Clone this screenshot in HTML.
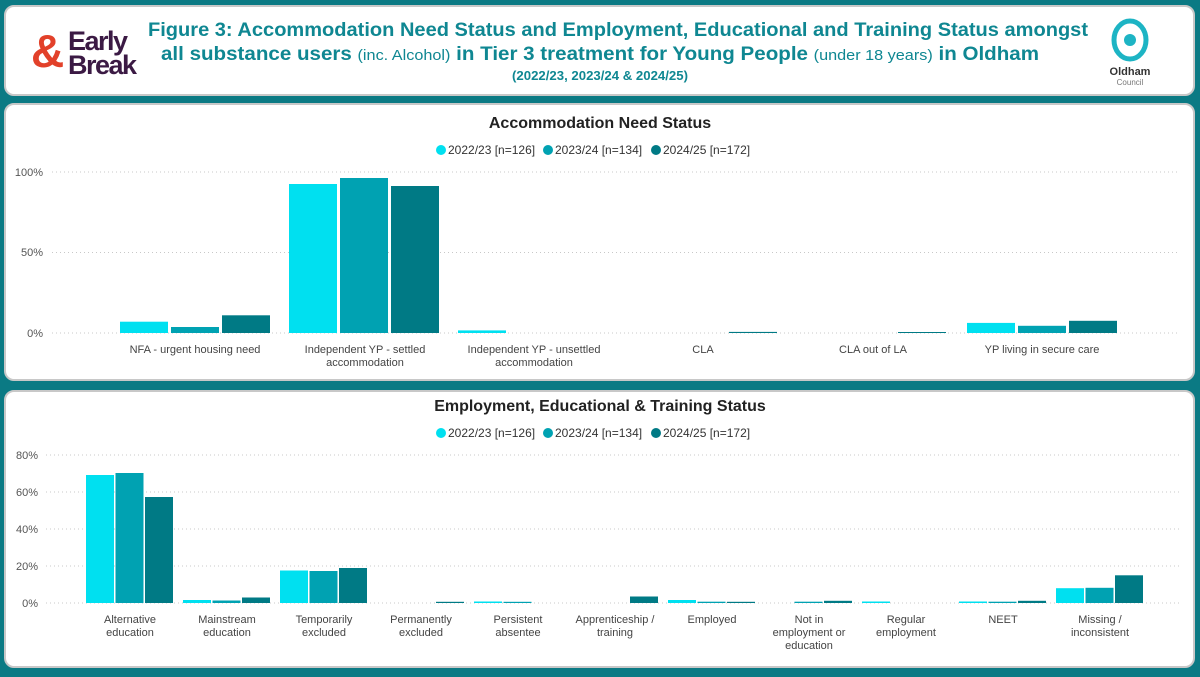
<!DOCTYPE html>
<html><head><style>
body{margin:0;width:1200px;height:672px;background:#0b7a84;overflow:hidden;font-family:"Liberation Sans",Arial,sans-serif}
</style></head><body>
<svg width="1200" height="672" xmlns="http://www.w3.org/2000/svg" font-family="Liberation Sans, Arial, sans-serif">
<rect x="0" y="0" width="1200" height="672" fill="#0b7a84"/>
<rect x="5" y="6" width="1189" height="89" rx="9" fill="#fff" stroke="#c8c8c8" stroke-width="2"/>
<rect x="5" y="104" width="1189" height="276" rx="9" fill="#fff" stroke="#c8c8c8" stroke-width="2"/>
<rect x="5" y="391" width="1189" height="276" rx="9" fill="#fff" stroke="#c8c8c8" stroke-width="2"/>
<!-- Early Break logo -->
<text x="31" y="67" font-size="46" font-weight="bold" fill="#e2412a">&amp;</text>
<text x="68" y="50" font-size="27" font-weight="bold" fill="#3b1a44" letter-spacing="-1.5">Early</text>
<text x="68" y="74" font-size="27" font-weight="bold" fill="#3b1a44" letter-spacing="-1.5">Break</text>
<!-- Title -->
<g fill="#0f8792" font-weight="bold">
<text x="148" y="36" font-size="19" textLength="940" lengthAdjust="spacingAndGlyphs">Figure 3: Accommodation Need Status and Employment, Educational and Training Status amongst</text>
<text x="161" y="60" font-size="19" textLength="878" lengthAdjust="spacingAndGlyphs">all substance users <tspan font-weight="normal" font-size="15">(inc. Alcohol)</tspan> in Tier 3 treatment for Young People <tspan font-weight="normal" font-size="15">(under 18 years)</tspan> in Oldham</text>
<text x="512" y="80" font-size="13" textLength="176" lengthAdjust="spacingAndGlyphs">(2022/23, 2023/24 &amp; 2024/25)</text>
</g>
<!-- Oldham logo -->
<ellipse cx="1130" cy="40" rx="16" ry="19" fill="none" stroke="#1db4c4" stroke-width="5"/>
<circle cx="1130" cy="40" r="6" fill="#1db4c4"/>
<text x="1130" y="75" font-size="11" font-weight="bold" fill="#333" text-anchor="middle">Oldham</text>
<text x="1130" y="85" font-size="8" fill="#777" text-anchor="middle">Council</text>

<!-- Chart 1 -->
<text x="600" y="128" font-size="16" font-weight="bold" fill="#222" text-anchor="middle">Accommodation Need Status</text>
<g font-size="12" fill="#333">
<circle cx="441" cy="150" r="5" fill="#00e0f0"/><text x="448" y="154">2022/23 [n=126]</text>
<circle cx="548" cy="150" r="5" fill="#00a2b2"/><text x="555" y="154">2023/24 [n=134]</text>
<circle cx="656" cy="150" r="5" fill="#007a85"/><text x="663" y="154">2024/25 [n=172]</text>
</g>
<g stroke="#c8c8c8" stroke-dasharray="1,3">
<line x1="52" y1="172" x2="1180" y2="172"/><line x1="52" y1="252.5" x2="1180" y2="252.5"/><line x1="52" y1="333" x2="1180" y2="333"/>
</g>
<g font-size="11" fill="#555" text-anchor="end">
<text x="43" y="176">100%</text><text x="43" y="256">50%</text><text x="43" y="337">0%</text>
</g>
<g font-size="11" fill="#444" text-anchor="middle">
<text x="195" y="353">NFA - urgent housing need</text>
<text x="365" y="353">Independent YP - settled</text><text x="365" y="366">accommodation</text>
<text x="534" y="353">Independent YP - unsettled</text><text x="534" y="366">accommodation</text>
<text x="703" y="353">CLA</text>
<text x="873" y="353">CLA out of LA</text>
<text x="1042" y="353">YP living in secure care</text>
</g>

<!-- Chart 2 -->
<text x="600" y="411" font-size="16" font-weight="bold" fill="#222" text-anchor="middle">Employment, Educational &amp; Training Status</text>
<g font-size="12" fill="#333">
<circle cx="441" cy="433" r="5" fill="#00e0f0"/><text x="448" y="437">2022/23 [n=126]</text>
<circle cx="548" cy="433" r="5" fill="#00a2b2"/><text x="555" y="437">2023/24 [n=134]</text>
<circle cx="656" cy="433" r="5" fill="#007a85"/><text x="663" y="437">2024/25 [n=172]</text>
</g>
<g stroke="#c8c8c8" stroke-dasharray="1,3">
<line x1="46" y1="455" x2="1180" y2="455"/><line x1="46" y1="492" x2="1180" y2="492"/><line x1="46" y1="529" x2="1180" y2="529"/><line x1="46" y1="566" x2="1180" y2="566"/><line x1="46" y1="603" x2="1180" y2="603"/>
</g>
<g font-size="11" fill="#555" text-anchor="end">
<text x="38" y="459">80%</text><text x="38" y="496">60%</text><text x="38" y="533">40%</text><text x="38" y="570">20%</text><text x="38" y="607">0%</text>
</g>
<g font-size="11" fill="#444" text-anchor="middle">
<text x="130" y="623">Alternative</text><text x="130" y="636">education</text>
<text x="227" y="623">Mainstream</text><text x="227" y="636">education</text>
<text x="324" y="623">Temporarily</text><text x="324" y="636">excluded</text>
<text x="421" y="623">Permanently</text><text x="421" y="636">excluded</text>
<text x="518" y="623">Persistent</text><text x="518" y="636">absentee</text>
<text x="615" y="623">Apprenticeship /</text><text x="615" y="636">training</text>
<text x="712" y="623">Employed</text>
<text x="809" y="623">Not in</text><text x="809" y="636">employment or</text><text x="809" y="649">education</text>
<text x="906" y="623">Regular</text><text x="906" y="636">employment</text>
<text x="1003" y="623">NEET</text>
<text x="1100" y="623">Missing /</text><text x="1100" y="636">inconsistent</text>
</g>

<g>
<rect x="120" y="321.7" width="48" height="11.3" fill="#00e0f0"/>
<rect x="171" y="327" width="48" height="6" fill="#00a2b2"/>
<rect x="222" y="315.3" width="48" height="17.7" fill="#007a85"/>
<rect x="289" y="184" width="48" height="149" fill="#00e0f0"/>
<rect x="340" y="178" width="48" height="155" fill="#00a2b2"/>
<rect x="391" y="186" width="48" height="147" fill="#007a85"/>
<rect x="458" y="330.4" width="48" height="2.6" fill="#00e0f0"/>
<rect x="729" y="331.9" width="48" height="1.1" fill="#007a85"/>
<rect x="898" y="332" width="48" height="1" fill="#007a85"/>
<rect x="967" y="322.9" width="48" height="10.1" fill="#00e0f0"/>
<rect x="1018" y="325.8" width="48" height="7.2" fill="#00a2b2"/>
<rect x="1069" y="320.8" width="48" height="12.2" fill="#007a85"/>
</g>
<g>
<rect x="86" y="475" width="28" height="128" fill="#00e0f0"/>
<rect x="115.5" y="473" width="28" height="130" fill="#00a2b2"/>
<rect x="145" y="497" width="28" height="106" fill="#007a85"/>
<rect x="183" y="600" width="28" height="3" fill="#00e0f0"/>
<rect x="212.5" y="600.5" width="28" height="2.5" fill="#00a2b2"/>
<rect x="242" y="597.5" width="28" height="5.5" fill="#007a85"/>
<rect x="280" y="570.5" width="28" height="32.5" fill="#00e0f0"/>
<rect x="309.5" y="571" width="28" height="32" fill="#00a2b2"/>
<rect x="339" y="568" width="28" height="35" fill="#007a85"/>
<rect x="436" y="601.8" width="28" height="1.2" fill="#007a85"/>
<rect x="474" y="601.5" width="28" height="1.5" fill="#00e0f0"/>
<rect x="503.5" y="601.8" width="28" height="1.2" fill="#00a2b2"/>
<rect x="630" y="596.5" width="28" height="6.5" fill="#007a85"/>
<rect x="668" y="600" width="28" height="3" fill="#00e0f0"/>
<rect x="697.5" y="601.7" width="28" height="1.3" fill="#00a2b2"/>
<rect x="727" y="601.8" width="28" height="1.2" fill="#007a85"/>
<rect x="794.5" y="601.7" width="28" height="1.3" fill="#00a2b2"/>
<rect x="824" y="600.8" width="28" height="2.2" fill="#007a85"/>
<rect x="862" y="601.5" width="28" height="1.5" fill="#00e0f0"/>
<rect x="959" y="601.5" width="28" height="1.5" fill="#00e0f0"/>
<rect x="988.5" y="601.7" width="28" height="1.3" fill="#00a2b2"/>
<rect x="1018" y="600.8" width="28" height="2.2" fill="#007a85"/>
<rect x="1056" y="588.2" width="28" height="14.8" fill="#00e0f0"/>
<rect x="1085.5" y="587.8" width="28" height="15.2" fill="#00a2b2"/>
<rect x="1115" y="575.3" width="28" height="27.7" fill="#007a85"/>
</g>
</svg>
</body></html>
